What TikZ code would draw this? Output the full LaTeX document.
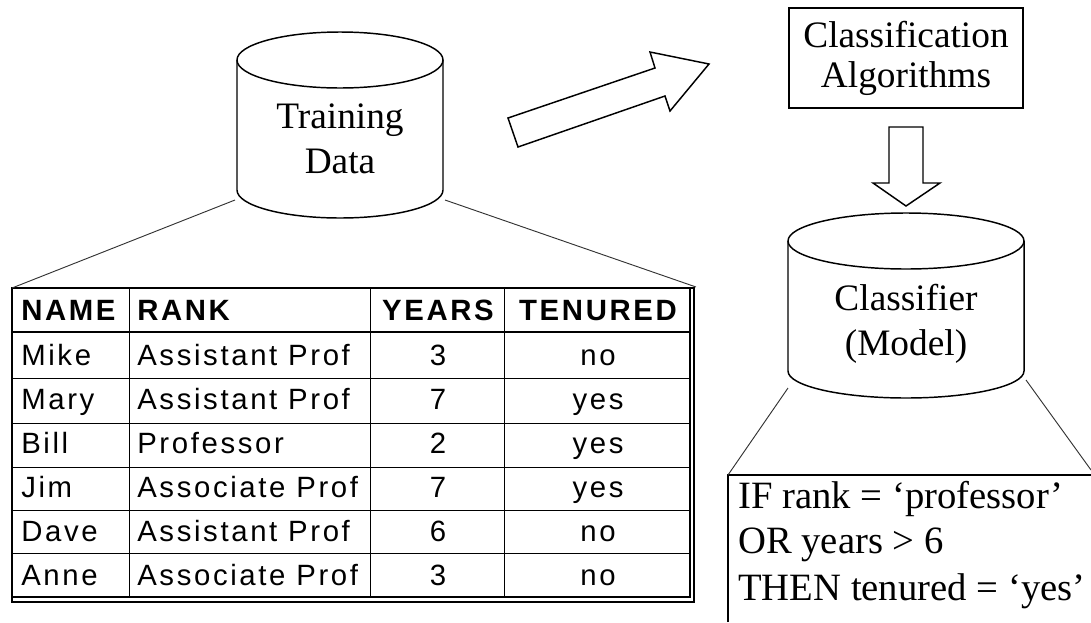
\documentclass[tikz,border=0pt]{standalone}
\usepackage{fontspec}
\setmainfont{Liberation Serif}
\newfontfamily\tabfont[LetterSpace=9]{Liberation Sans}
\begin{document}
\begin{tikzpicture}[x=0.75pt,y=-0.75pt,line join=miter,
  outline/.style={draw=black,line width=1.1pt},
  hair/.style={draw=black!80,line width=0.7pt},
  bigtext/.style={font=\fontsize{28}{30}\selectfont,inner sep=0pt,anchor=base},
  ruletext/.style={font=\fontsize{29}{30}\selectfont,inner sep=0pt,anchor=base west},
  cellL/.style={font=\tabfont\fontsize{22}{24}\selectfont,inner sep=0pt,anchor=base west},
  cellC/.style={font=\tabfont\fontsize{22}{24}\selectfont,inner sep=0pt,anchor=base},
  headL/.style={font=\tabfont\bfseries\fontsize{22}{24}\selectfont,inner sep=0pt,anchor=base west},
  headC/.style={font=\tabfont\bfseries\fontsize{22}{24}\selectfont,inner sep=0pt,anchor=base}]
\useasboundingbox (0,0) rectangle (1091,622);

% ---- Training Data cylinder ----
\draw[outline] (340,60) ellipse [x radius=103, y radius=28];
\draw[outline] (237,60) -- (237,190) arc[start angle=180,end angle=0,x radius=103,y radius=28] -- (443,60);
\node[bigtext] (train1) at (340,128) {Training};
\node[bigtext] (train2) at (340,173) {Data};
\coordinate (trainBL) at (235,200);
\coordinate (trainBR) at (445,200);

% ---- data table ----
\coordinate (tabTL) at (12,288);
\coordinate (tabTR) at (696,287);
\draw[outline] (12,288) rectangle (694,602);
\draw[line width=1.1pt] (12,597) -- (690,597) -- (690,288);
\draw[line width=1.1pt] (12,332) -- (690,332);
\foreach \yy in {378,423,467,510,553}
  \draw[line width=0.7pt] (12,\yy) -- (690,\yy);
\foreach \xx in {129,370,504}
  \draw[line width=0.7pt] (\xx,288) -- (\xx,597);
\node[headL] (hName)  at (21,320)  {NAME};
\node[headL] (hRank)  at (137,320) {RANK};
\node[headC] (hYears) at (438,320) {YEARS};
\node[headC] (hTen)   at (598,320) {TENURED};
\foreach \nm/\rk/\yr/\tn [count=\i] in {Mike/Assistant Prof/3/no,
    Mary/Assistant Prof/7/yes, Bill/Professor/2/yes,
    Jim/Associate Prof/7/yes, Dave/Assistant Prof/6/no,
    Anne/Associate Prof/3/no}{
  \pgfmathsetmacro\yb{332+(\i-0.5)*44.17+11}
  \node[cellL] (name\i) at (21,\yb)  {\nm};
  \node[cellL] (rank\i) at (137,\yb) {\rk};
  \node[cellC] (year\i) at (438,\yb) {\yr};
  \node[cellC] (ten\i)  at (598,\yb) {\tn};
}
\draw[hair] (trainBL) -- (tabTL);
\draw[hair] (trainBR) -- (tabTR);

% ---- block arrow towards the algorithms ----
\draw[outline] (508,118) -- (655,68) -- (650,52) -- (709,64) -- (670,111)
  -- (665,96) -- (518,147) -- cycle;

% ---- Classification Algorithms box ----
\node[outline,minimum width=175.5pt,minimum height=75pt,align=center,
  font=\fontsize{28}{30}\selectfont,inner sep=0pt] (algo) at (906,58)
  {Classification\\Algorithms};

% ---- downward block arrow ----
\draw[outline] (889,127) -- (923,127) -- (923,183) -- (940,183) -- (906,206)
  -- (873,183) -- (889,183) -- cycle;

% ---- Classifier (Model) cylinder ----
\draw[outline] (906,241) ellipse [x radius=118, y radius=28];
\draw[outline] (788,241) -- (788,371) arc[start angle=180,end angle=0,x radius=118,y radius=27] -- (1024,241);
\node[bigtext] (clf1) at (906,310) {Classifier};
\node[bigtext] (clf2) at (906,355) {(Model)};
\coordinate (clfBL) at (788,388);
\coordinate (clfBR) at (1026,380);

% ---- rule box ----
\coordinate (ruleTL) at (728,475);
\coordinate (ruleTR) at (1091,470);
\draw[line width=0.9pt] (728,622) -- (ruleTL) -- (1091,475);
\draw[hair] (clfBL) -- (ruleTL);
\draw[hair] (clfBR) -- (ruleTR);
\node[ruletext] (r1) at (738,508) {IF rank = ‘professor’};
\node[ruletext] (r2) at (738,553) {OR years > 6};
\node[ruletext] (r3) at (738,600) {THEN tenured = ‘yes’};
\end{tikzpicture}
\end{document}
